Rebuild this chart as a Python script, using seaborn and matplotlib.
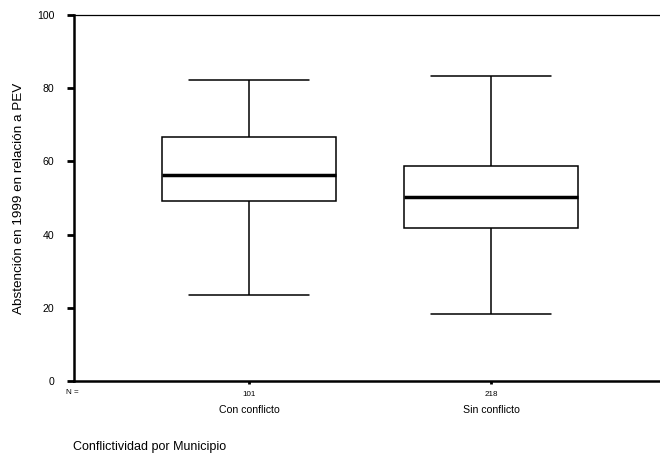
import matplotlib
matplotlib.use("Agg")
import matplotlib.pyplot as plt
import matplotlib.transforms as mtransforms
import pandas as pd
import seaborn as sns

# Five-number summaries per group (min, Q1, median, Q3, max)
categories = ["Con conflicto", "Sin conflicto"]
con_conflicto = [23.5, 49.2, 56.4, 66.6, 82.3]
sin_conflicto = [18.3, 41.8, 50.2, 58.8, 83.4]
n_labels = ["101", "218"]
y_ticks = [0, 20, 40, 60, 80, 100]

df = pd.DataFrame({
    "grupo": [categories[0]] * len(con_conflicto) + [categories[1]] * len(sin_conflicto),
    "valor": con_conflicto + sin_conflicto,
})

sns.set_style("white")
plt.rcParams["font.family"] = ["Liberation Sans", "DejaVu Sans"]
plt.rcParams["text.color"] = "black"
plt.rcParams["axes.labelcolor"] = "black"

fig = plt.figure(figsize=(6.6, 4.53), dpi=100)
ax = fig.add_axes([74 / 660, (453 - 381) / 453, 592 / 660, 366 / 453])

sns.boxplot(
    data=df, x="grupo", y="valor", order=categories, ax=ax,
    whis=(0, 100), width=0.715, color="white", linecolor="black",
    linewidth=1.1, fill=True, showfliers=False, capwidths=0.496,
    medianprops=dict(linewidth=2.5, color="black"),
)

ax.set_xlim(-0.723, 1.723)
ax.set_ylim(0, 100)
ax.set_yticks(y_ticks)
ax.set_yticklabels([str(t) for t in y_ticks], fontsize=7.6)
ax.set_xticks(range(len(categories)))
ax.set_xticklabels(n_labels, fontsize=5.8)
ax.set_xlabel("")
ax.set_ylabel("Abstención en 1999 en relación a PEV", fontsize=9.7, labelpad=9)

ax.tick_params(axis="y", direction="out", length=5, width=2, pad=9, left=True, colors="black")
ax.tick_params(axis="x", direction="out", length=2, width=2, pad=5, bottom=True, colors="black")

for side in ["left", "bottom"]:
    ax.spines[side].set_linewidth(1.8)
    ax.spines[side].set_color("black")
ax.spines["top"].set_linewidth(0.9)
ax.spines["top"].set_color("black")
ax.spines["right"].set_visible(False)

# Category names beneath the N counts
trans = mtransforms.blended_transform_factory(ax.transData, fig.transFigure)
for i, cat in enumerate(categories):
    ax.text(i, 1 - 410 / 453, cat, transform=trans, ha="center", va="center", fontsize=7.6)

fig.text(66 / 660, 1 - 393 / 453, "N =", ha="left", va="center", fontsize=5.8)
fig.text(73 / 660, 1 - 447 / 453, "Conflictividad por Municipio", ha="left", va="center", fontsize=9)

fig.savefig("out.png", dpi=100)
